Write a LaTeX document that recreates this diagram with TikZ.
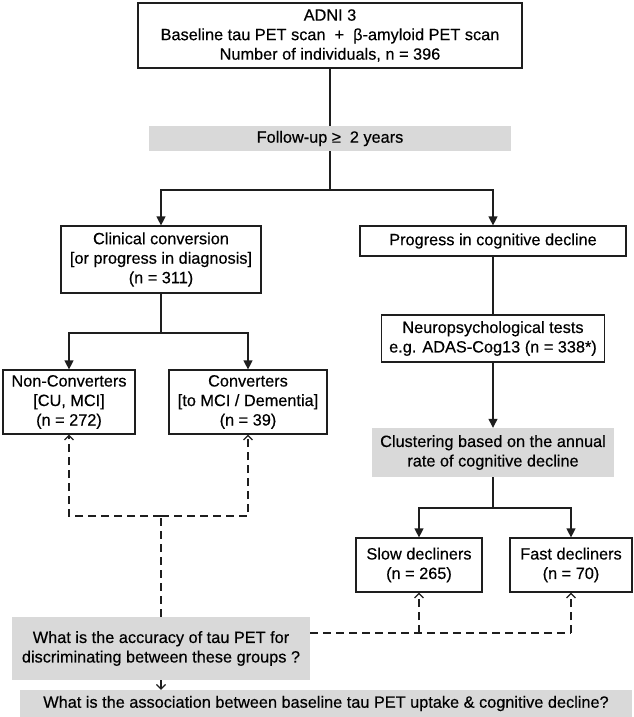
\documentclass[tikz,border=0pt]{standalone}
\usepackage{fontspec}
\setmainfont{Liberation Sans}[FakeBold=0.4]
\usetikzlibrary{arrows.meta}
\definecolor{panelgrey}{RGB}{217,217,217}
\definecolor{linegrey}{RGB}{30,30,30}

\begin{document}
\begin{tikzpicture}[x=1pt, y=-1pt, font=\fontsize{16.3}{19.5}\selectfont,
        box/.style={draw=linegrey, line width=1.2pt, align=center, inner sep=0pt},
        greybox/.style={fill=panelgrey, align=center, inner sep=0pt},
        flow/.style={draw=linegrey, line width=1.2pt, -{Triangle[length=9pt,width=9pt]}},
        dashlink/.style={draw=linegrey, line width=1.2pt, dash pattern=on 8pt off 5pt},
        openhead/.style={-{Straight Barb[length=4.5pt,width=9pt]}}]
        \useasboundingbox (0, 0) rectangle (633, 717);

        % upper part
        \node[box, minimum width=384, minimum height=65] at (330, 35.5)(adni){ADNI 3\\Baseline tau PET scan~~+~~β-amyloid PET scan\\Number of individuals, n = 396};
        \node[greybox, minimum width=362, minimum height=25] at (330, 138.5)(follow){Follow-up ≥~~2 years};
        \node[box, minimum width=200, minimum height=67] at (161, 259.5)(clin){Clinical conversion\\{[}or progress in diagnosis{]}\\(n = 311)};
        \node[box, minimum width=266, minimum height=30] at (493, 241)(prog){Progress in cognitive decline};
        \node[box, minimum width=223, minimum height=47] at (493, 338.5)(neuro){Neuropsychological tests\\e.g. ADAS-Cog13 (n = 338*)};

        % groups
        \node[box, minimum width=132, minimum height=64] at (69, 402)(nonconv){Non-Converters\\{[}CU, MCI{]}\\(n = 272)};
        \node[box, minimum width=158, minimum height=64] at (248, 402)(conv){Converters\\{[}to MCI / Dementia{]}\\(n = 39)};
        \node[greybox, minimum width=242, minimum height=49] at (493, 452.5)(clust){Clustering based on the annual\\rate of cognitive decline};
        \node[box, minimum width=126, minimum height=54] at (419, 565)(slow){Slow decliners\\(n = 265)};
        \node[box, minimum width=122, minimum height=54] at (571, 565)(fast){Fast decliners\\(n = 70)};

        % questions
        \node[greybox, minimum width=298, minimum height=63] at (161, 648.5)(accq){What is the accuracy of tau PET for\\discriminating between these groups ?};
        \node[greybox, minimum width=612, minimum height=27] at (326, 703.5)(assocq){What is the association between baseline tau PET uptake \& cognitive decline?};

        \coordinate (topsplit) at (330, 190);
        \coordinate (clinsplit) at (161, 333);
        \coordinate (clustsplit) at (493, 508);
        \coordinate (leftjoin) at (161, 516);
        \coordinate (rightjoin) at (571, 633);

        \draw[linegrey, line width=1.2pt] (adni) -- (follow) (follow) -- (topsplit);
        \draw[flow] (topsplit) -| (clin);
        \draw[flow] (topsplit) -| (prog);
        \draw[linegrey, line width=1.2pt] (prog) -- (neuro);
        \draw[flow] (neuro) -- (clust);
        \draw[linegrey, line width=1.2pt] (clin) -- (clinsplit) (clust) -- (clustsplit);
        \draw[flow] (clinsplit) -| (nonconv);
        \draw[flow] (clinsplit) -| (conv);
        \draw[flow] (clustsplit) -| (slow);
        \draw[flow] (clustsplit) -| (fast);

        % dashed links
        \draw[dashlink] (accq) -- (leftjoin);
        \draw[dashlink, openhead] (leftjoin) -| (nonconv);
        \draw[dashlink, openhead] (leftjoin) -| (conv);
        \draw[dashlink] (accq.east |- rightjoin) -- (rightjoin);
        \draw[dashlink, openhead] (rightjoin) -- (fast);
        \draw[dashlink, openhead] (slow |- rightjoin) -- (slow);
        \draw[dashlink, openhead] (accq.south) -- (accq.south |- assocq.north);
\end{tikzpicture}
\end{document}
